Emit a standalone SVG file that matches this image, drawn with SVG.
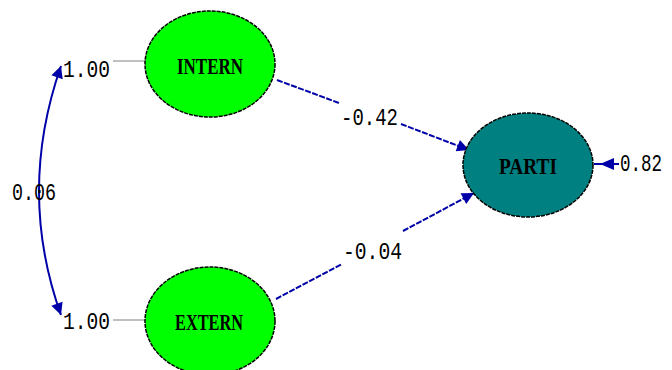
<svg xmlns="http://www.w3.org/2000/svg" width="672" height="370" viewBox="0 0 672 370">
  <defs>
    <marker id="head" viewBox="0 0 10 10" refX="10" refY="5" markerWidth="16" markerHeight="12" markerUnits="userSpaceOnUse" orient="auto-start-reverse">
      <path d="M0,0 L10,5 L0,10 Z" fill="#0000a8"/>
    </marker>
  </defs>
  <style>
    .lat { stroke: #000; stroke-width: 1.5; stroke-dasharray: 4 1; }
    .exo { fill: #00ff00; }
    .endo { fill: #008080; }
    .name { font-family: "Liberation Serif", "Times New Roman", serif; font-weight: bold; font-size: 24px; fill: #000; }
    .val { font-family: "Liberation Mono", "Courier New", monospace; font-size: 24px; fill: #000; }
    .path { stroke: #0000a8; stroke-width: 2; fill: none; stroke-dasharray: 6 1.5; }
    .solid { stroke-dasharray: none; }
    .fix { stroke: #c0c0c0; stroke-width: 2; }
  </style>
  <rect width="672" height="370" fill="#fff"/>

  <g id="connectors">
    <!-- covariance between the two exogenous variables -->
    <path class="path solid" d="M61,66 Q17,192 61,315" marker-start="url(#head)" marker-end="url(#head)"/>
    <!-- fixed variances -->
    <line class="fix" x1="113" y1="61" x2="146" y2="61"/>
    <line class="fix" x1="113" y1="320" x2="146" y2="320"/>
    <!-- INTERN -> PARTI -->
    <line class="path" x1="277" y1="80" x2="339" y2="103"/>
    <line class="path" x1="401" y1="124" x2="469" y2="150" marker-end="url(#head)"/>
    <!-- EXTERN -> PARTI -->
    <line class="path" x1="276" y1="299" x2="342" y2="264"/>
    <line class="path" x1="403" y1="231" x2="474" y2="193" marker-end="url(#head)"/>
    <!-- error variance of PARTI -->
    <line class="path solid" x1="619" y1="164" x2="594" y2="164"/>
    <path d="M600,164 L614,158 L614,170 Z" fill="#0000a8"/>
  </g>

  <g id="labels">
    <text class="val" x="12" y="200" textLength="44" lengthAdjust="spacingAndGlyphs">0.06</text>
    <text class="val" x="341" y="125" textLength="57" lengthAdjust="spacingAndGlyphs">-0.42</text>
    <text class="val" x="343" y="259" textLength="59" lengthAdjust="spacingAndGlyphs">-0.04</text>
    <text class="val" x="620" y="171" font-size="19" textLength="42" lengthAdjust="spacingAndGlyphs">0.82</text>
  </g>

  <g id="intern">
    <ellipse class="lat exo" cx="210" cy="64" rx="65" ry="53"/>
    <text class="val" x="63" y="77" textLength="47" lengthAdjust="spacingAndGlyphs">1.00</text>
    <text class="name" x="177" y="74" textLength="66" lengthAdjust="spacingAndGlyphs">INTERN</text>
  </g>

  <g id="extern">
    <ellipse class="lat exo" cx="210" cy="321" rx="65" ry="54"/>
    <text class="val" x="63" y="329" textLength="47" lengthAdjust="spacingAndGlyphs">1.00</text>
    <text class="name" x="175" y="330" textLength="68" lengthAdjust="spacingAndGlyphs">EXTERN</text>
  </g>

  <g id="parti">
    <ellipse class="lat endo" cx="528" cy="165" rx="65" ry="52"/>
    <text class="name" x="499" y="174" textLength="58" lengthAdjust="spacingAndGlyphs" font-weight="normal">PARTI</text>
  </g>
</svg>
